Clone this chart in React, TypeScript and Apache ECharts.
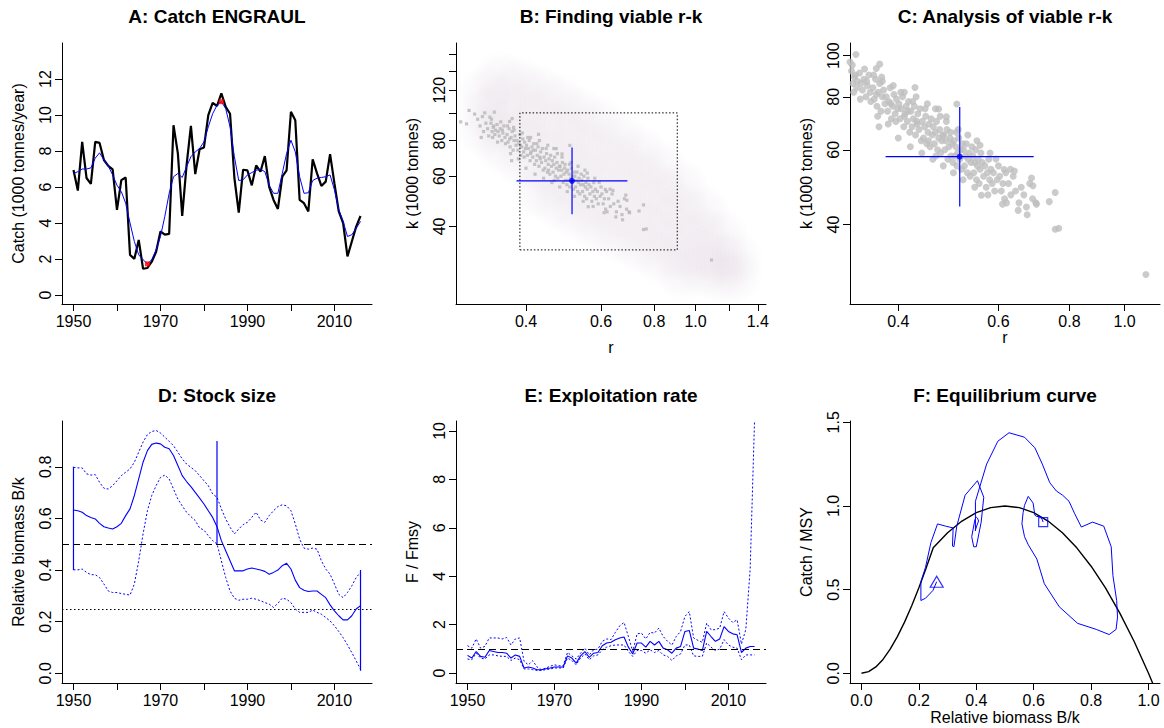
import React, { useEffect, useRef } from "react";
import * as echarts from "echarts";

const FONT = "'Liberation Sans', Arial, Helvetica, sans-serif";
const LN = Math.log;

// ---------- Panel A: catch ----------
const firstYear = 1950;
const catchRaw = [
  6.94, 5.8, 8.51, 6.5, 6.17, 8.51, 8.45, 7.5, 7.17, 6.98,
  4.73, 6.38, 6.53, 2.23, 2.01, 3.06, 1.46, 1.5, 1.85, 2.4,
  3.53, 3.35, 3.4, 9.43, 7.87, 4.4, 7.2, 9.4, 6.72, 8.1,
  8.2, 9.99, 10.67, 10.5, 11.2, 10.45, 10.07, 6.5, 4.58, 6.96,
  6.92, 6.09, 7.2, 6.85, 7.72, 6.0, 5.28, 4.78, 6.57, 6.92,
  10.18, 9.71, 5.28, 5.1, 4.64, 7.54, 6.76, 6.06, 6.3, 7.83,
  6.2, 4.64, 4.0, 2.14, 2.97, 3.8, 4.39,
];
const catchSmooth = [
  6.75, 6.85, 7.0, 7.0, 7.06, 7.6, 7.9, 7.5, 7.17, 6.67,
  6.1, 5.74, 5.1, 4.0, 2.97, 2.23, 1.96, 1.73, 1.96, 2.51,
  3.25, 4.36, 5.65, 6.57, 6.75, 6.53, 7.12, 7.68, 7.95, 8.14,
  8.51, 9.34, 10.07, 10.54, 10.74, 10.36, 9.34, 7.68, 6.36, 6.4,
  6.67, 6.8, 6.93, 6.98, 6.85, 6.1, 5.65, 5.65, 6.75, 7.86,
  8.6, 7.95, 6.57, 5.65, 5.68, 6.36, 6.49, 6.53, 6.57, 6.67,
  5.84, 4.73, 4.09, 3.25, 3.35, 3.7, 4.09,
];
const years = catchRaw.map((_, i) => firstYear + i);
const catchExtremeYears = [1967, 1984];
const yearTicks = [1950, 1960, 1970, 1980, 1990, 2000, 2010];
const yearLabels = [1950, 1970, 1990, 2010];
const catchTicks = [0, 2, 4, 6, 8, 10, 12];

// ---------- Panels B, C: r-k ----------
const cloudPoints: [number, number][] = [
  [0.32, 118], [0.32, 100], [0.32, 86],
  [0.35, 132], [0.35, 108], [0.35, 90], [0.35, 76],
  [0.39, 126], [0.39, 102], [0.39, 84], [0.39, 68],
  [0.43, 118], [0.43, 96], [0.43, 79], [0.43, 64], [0.43, 53],
  [0.48, 110], [0.48, 88], [0.48, 72], [0.48, 59], [0.48, 48],
  [0.53, 100], [0.53, 81], [0.53, 66], [0.53, 54], [0.53, 44],
  [0.59, 92], [0.59, 74], [0.59, 60], [0.59, 49], [0.59, 40],
  [0.66, 82], [0.66, 67], [0.66, 55], [0.66, 45], [0.66, 37],
  [0.74, 73], [0.74, 60], [0.74, 50], [0.74, 41], [0.74, 34],
  [0.83, 64], [0.83, 53], [0.83, 44], [0.83, 37], [0.83, 31],
  [0.93, 55], [0.93, 46], [0.93, 38], [0.93, 32], [0.93, 27.5],
  [1.04, 45], [1.04, 38], [1.04, 32], [1.04, 28],
  [1.15, 37], [1.15, 31], [1.15, 27],
  [1.24, 31], [1.24, 27],
];
const viablePoints: [number, number][] = [
  [0.281, 93], [0.29, 91.5], [0.294, 102], [0.303, 99], [0.308, 95], [0.312, 90], [0.316, 97], [0.318, 86], [0.322, 92], [0.325, 88], [0.327, 83], [0.314, 82], [0.32, 100],
  [0.329, 96.6], [0.337, 100.6], [0.331, 92], [0.333, 86], [0.335, 89], [0.338, 84], [0.332, 95], [0.336, 90], [0.339, 87], [0.334, 82],
  [0.342, 91], [0.344, 86], [0.346, 83], [0.348, 88], [0.351, 80], [0.353, 85], [0.355, 90], [0.357, 82], [0.343, 79], [0.349, 93], [0.352, 87], [0.358, 78],
  [0.371, 95.5], [0.366, 93.3], [0.361, 84], [0.363, 79], [0.365, 88], [0.367, 76], [0.369, 82], [0.371, 86], [0.373, 74], [0.375, 80], [0.377, 83], [0.379, 77], [0.362, 90], [0.368, 72], [0.374, 89], [0.366, 81], [0.37, 68], [0.375, 87],
  [0.381, 80], [0.383, 74], [0.385, 78], [0.387, 84], [0.389, 71], [0.391, 76], [0.393, 81], [0.395, 73], [0.397, 79], [0.399, 75], [0.384, 69], [0.388, 77], [0.392, 85], [0.396, 70],
  [0.401, 77], [0.403, 71], [0.405, 75], [0.407, 80], [0.409, 68], [0.411, 73], [0.413, 76], [0.415, 70], [0.417, 78], [0.419, 66], [0.404, 82], [0.41, 72], [0.416, 74], [0.40, 64], [0.41, 82],
  [0.428, 84.1], [0.421, 74], [0.423, 68], [0.425, 71], [0.427, 76], [0.429, 65], [0.431, 70], [0.433, 73], [0.435, 67], [0.437, 75], [0.439, 63], [0.424, 78], [0.432, 69], [0.42, 61], [0.43, 80],
  [0.441, 70], [0.443, 64], [0.445, 68], [0.447, 72], [0.449, 62], [0.451, 66], [0.453, 69], [0.455, 61], [0.457, 71], [0.459, 65], [0.446, 75], [0.452, 63], [0.44, 59], [0.45, 77],
  [0.461, 68], [0.463, 62], [0.465, 66], [0.467, 70], [0.469, 60], [0.471, 64], [0.473, 67], [0.475, 59], [0.477, 63], [0.479, 65], [0.466, 58], [0.474, 72], [0.471, 74.9], [0.46, 57], [0.465, 75],
  [0.481, 65], [0.483, 60], [0.485, 63], [0.487, 67], [0.489, 57], [0.491, 61], [0.493, 64], [0.495, 58], [0.497, 62], [0.499, 56], [0.486, 70], [0.494, 66], [0.486, 71.8], [0.48, 55],
  [0.507, 76.9], [0.501, 63], [0.503, 58], [0.505, 61], [0.507, 55], [0.509, 59], [0.511, 64], [0.513, 57], [0.515, 60], [0.517, 54], [0.519, 62], [0.506, 66], [0.50, 53], [0.51, 67],
  [0.521, 60], [0.523, 55], [0.525, 58], [0.527, 62], [0.529, 53], [0.531, 57], [0.533, 59], [0.535, 52], [0.537, 56], [0.539, 61], [0.52, 51], [0.53, 65],
  [0.541, 58], [0.543, 53], [0.545, 56], [0.547, 60], [0.549, 51], [0.551, 55], [0.553, 57], [0.555, 50], [0.557, 54], [0.559, 59], [0.557, 61.5], [0.56, 46.9], [0.545, 49], [0.55, 63],
  [0.562, 56], [0.565, 52], [0.568, 55], [0.571, 49], [0.574, 53], [0.577, 57], [0.579, 51], [0.575, 47], [0.58, 59],
  [0.582, 54], [0.585, 50], [0.588, 53], [0.591, 48], [0.594, 57.1], [0.597, 51], [0.60, 55],
  [0.603, 52], [0.607, 48], [0.611, 50], [0.615, 46], [0.618, 53], [0.614, 53.9], [0.61, 44.7], [0.62, 45],
  [0.625, 50], [0.631, 47], [0.637, 52], [0.64, 53.5], [0.643, 48], [0.652, 45], [0.658, 49], [0.65, 43.2], [0.63, 54],
  [0.665, 47], [0.672, 44], [0.674, 42.2], [0.681, 50], [0.686, 51.5], [0.689, 46], [0.69, 49.4], [0.698, 45], [0.70, 44.7],
  [0.737, 45.3], [0.755, 47.6], [0.755, 39.0], [0.766, 39.2], [1.09, 30.5],
];
const rPrior = [0.387, 0.906];
const kPrior = [33.1, 100];
const rEstimate = [0.38, 0.513, 0.692]; // low, mid, high
const kEstimate = [44.1, 57.8, 75.7];
const rTicksB = [0.4, 0.6, 0.8, 1.0, 1.2, 1.4];
const rLabelsB = [0.4, 0.6, 0.8, 1.0, 1.4];
const kTicksB = [40, 60, 80, 100, 120, 140, 160];
const kLabelsB = [40, 60, 80, 120];
const rTicksC = [0.4, 0.6, 0.8, 1.0];
const kTicksC = [40, 60, 80, 100];

// ---------- Panel D: B/k ----------
const bkMed = [
  0.633, 0.63, 0.624, 0.611, 0.604, 0.598, 0.581, 0.568, 0.563, 0.559,
  0.568, 0.581, 0.611, 0.637, 0.689, 0.753, 0.818, 0.863, 0.887, 0.892,
  0.889, 0.876, 0.87, 0.844, 0.805, 0.766, 0.743, 0.723, 0.701, 0.679,
  0.656, 0.63, 0.604, 0.568, 0.514, 0.475, 0.436, 0.397, 0.397, 0.397,
  0.404, 0.408, 0.404, 0.4, 0.395, 0.384, 0.391, 0.4, 0.417, 0.426,
  0.404, 0.361, 0.332, 0.322, 0.317, 0.319, 0.319, 0.306, 0.293, 0.265,
  0.242, 0.223, 0.207, 0.207, 0.223, 0.249, 0.262,
];
const bkUpper = [
  0.798, 0.796, 0.796, 0.773, 0.768, 0.77, 0.74, 0.717, 0.714, 0.727,
  0.746, 0.766, 0.779, 0.792, 0.818, 0.857, 0.896, 0.925, 0.937, 0.941,
  0.931, 0.915, 0.899, 0.882, 0.857, 0.831, 0.811, 0.798, 0.785, 0.766,
  0.746, 0.727, 0.695, 0.682, 0.637, 0.598, 0.566, 0.54, 0.559, 0.576,
  0.585, 0.604, 0.624, 0.594, 0.585, 0.611, 0.63, 0.646, 0.653, 0.649,
  0.63, 0.579, 0.52, 0.485, 0.481, 0.485, 0.481, 0.436, 0.404, 0.384,
  0.346, 0.306, 0.293, 0.313, 0.339, 0.371, 0.391,
];
const bkLower = [
  0.401, 0.401, 0.404, 0.391, 0.382, 0.382, 0.371, 0.346, 0.319, 0.313,
  0.313, 0.309, 0.306, 0.303, 0.346, 0.436, 0.54, 0.63, 0.689, 0.727,
  0.759, 0.768, 0.753, 0.714, 0.675, 0.649, 0.624, 0.607, 0.592, 0.563,
  0.555, 0.533, 0.514, 0.501, 0.436, 0.371, 0.319, 0.291, 0.283, 0.287,
  0.287, 0.291, 0.287, 0.281, 0.274, 0.268, 0.255, 0.271, 0.291, 0.287,
  0.274, 0.249, 0.236, 0.236, 0.236, 0.245, 0.236, 0.229, 0.216, 0.203,
  0.184, 0.162, 0.138, 0.11, 0.08, 0.048, 0.016,
];
const bkPriorYears = [1950, 1983, 2016];
const bkPriorLow = [0.4, 0.5, 0.01];
const bkPriorHigh = [0.8, 0.9, 0.4];
const bkTicks = [0, 0.2, 0.4, 0.6, 0.8];

// ---------- Panel E: F/Fmsy ----------
const ffMed = [
  0.73, 0.62, 0.89, 0.69, 0.65, 0.93, 0.89, 0.85, 0.85, 0.82,
  0.62, 0.75, 0.69, 0.21, 0.25, 0.21, 0.14, 0.14, 0.18, 0.21,
  0.25, 0.25, 0.25, 0.71, 0.62, 0.41, 0.71, 0.89, 0.65, 0.82,
  0.85, 1.13, 1.24, 1.27, 1.38, 1.45, 1.49, 1.07, 0.79, 1.24,
  1.24, 1.07, 1.31, 1.16, 1.31, 1.03, 0.96, 0.82, 1.03, 1.1,
  1.72, 1.76, 1.03, 0.99, 0.93, 1.72, 1.51, 1.31, 1.41, 1.92,
  1.72, 1.62, 1.58, 0.85, 1.03, 1.1, 1.1,
];
const ffUpper = [
  1.13, 1.03, 1.41, 1.03, 1.1, 1.45, 1.45, 1.45, 1.41, 1.47,
  1.16, 1.41, 1.45, 0.49, 0.34, 0.51, 0.25, 0.14, 0.21, 0.28,
  0.34, 0.3, 0.3, 0.85, 0.71, 0.58, 0.82, 1.03, 0.75, 0.96,
  0.99, 1.31, 1.41, 1.38, 1.68, 1.95, 2.09, 1.51, 0.89, 1.62,
  1.65, 1.41, 1.68, 1.65, 1.86, 1.51, 1.31, 1.16, 1.51, 1.72,
  2.34, 2.54, 1.45, 1.35, 1.27, 2.06, 1.79, 1.79, 1.86, 2.54,
  2.27, 2.09, 2.2, 1.2, 1.8, 4.3, 10.4,
];
const ffLower = [
  0.58, 0.55, 0.82, 0.62, 0.58, 0.75, 0.75, 0.71, 0.69, 0.69,
  0.52, 0.62, 0.55, 0.17, 0.17, 0.14, 0.11, 0.11, 0.14, 0.17,
  0.21, 0.21, 0.21, 0.62, 0.52, 0.34, 0.62, 0.79, 0.55, 0.71,
  0.75, 0.96, 1.07, 1.13, 1.16, 1.16, 1.16, 0.89, 0.69, 0.93,
  0.93, 0.82, 0.96, 0.85, 0.93, 0.75, 0.69, 0.52, 0.71, 0.79,
  1.16, 1.16, 0.71, 0.69, 0.69, 1.24, 1.07, 0.93, 0.99, 1.38,
  1.16, 1.07, 1.03, 0.55, 0.75, 0.75, 0.75,
];
const ffTicks = [0, 2, 4, 6, 8, 10];

// ---------- Panel F: equilibrium ----------
const MSY = 7.47;
const eqB = [0, 0.025, 0.05, 0.075, 0.1, 0.125, 0.15, 0.175, 0.2, 0.225, 0.25, 0.3, 0.35, 0.4, 0.45, 0.5, 0.55, 0.6, 0.65, 0.7, 0.75, 0.8, 0.85, 0.9, 0.95, 1.0, 1.02];
const eqC = [0, 0.01, 0.038, 0.083, 0.144, 0.219, 0.306, 0.404, 0.512, 0.628, 0.75, 0.84, 0.91, 0.96, 0.99, 1.0, 0.99, 0.96, 0.91, 0.84, 0.75, 0.64, 0.51, 0.36, 0.19, 0, -0.082];
const fxTicks = [0, 0.2, 0.4, 0.6, 0.8, 1.0];
const fyTicks = [0, 0.5, 1.0, 1.5];

// ---------- layout ----------
const COLS = [62, 456, 850];
const GW = 310;
const ROW_TOP = [43, 421];
const ROW_H = [261, 262];
const BLUE = "#0000ff";
const GRAY = "#bebebe";

function mkAxis(
  gridIndex: number, min: number, max: number, ticks: number[], labels: number[],
  fmt: (v: number) => string, rotate: number, extra: any = {}
) {
  return {
    type: "value", gridIndex, min, max,
    axisLine: { show: true, onZero: false, lineStyle: { color: "#000", width: 1 } },
    axisTick: { show: true, inside: false, length: 7, customValues: ticks, lineStyle: { color: "#000", width: 1 } },
    axisLabel: {
      show: true, customValues: labels, formatter: (v: number) => fmt(v), rotate, margin: 9,
      color: "#000", fontSize: 16, fontFamily: FONT,
    },
    splitLine: { show: false },
    nameLocation: "middle",
    nameTextStyle: { color: "#000", fontSize: 16, fontFamily: FONT },
    ...extra,
  };
}

function line(i: number, data: any[], color: string, width: number, type: any = "solid", z = 3) {
  return {
    type: "line", xAxisIndex: i, yAxisIndex: i, data, symbol: "none", showSymbol: false,
    silent: true, animation: false, z,
    lineStyle: { color, width, type },
  };
}

const yrFmt = (v: number) => String(Math.round(v));
const rFmt = (v: number) => Math.exp(v).toFixed(1);
const kFmt = (v: number) => String(Math.round(Math.exp(v)));
const f1 = (v: number) => v.toFixed(1);

function crossSeries(i: number) {
  return [
    line(i, [[LN(rEstimate[0]), LN(kEstimate[1])], [LN(rEstimate[2]), LN(kEstimate[1])]], BLUE, 1.2, "solid", 6),
    line(i, [[LN(rEstimate[1]), LN(kEstimate[0])], [LN(rEstimate[1]), LN(kEstimate[2])]], BLUE, 1.2, "solid", 6),
    {
      type: "scatter", xAxisIndex: i, yAxisIndex: i, silent: true, animation: false, z: 7,
      data: [[LN(rEstimate[1]), LN(kEstimate[1])]], symbol: "circle", symbolSize: 6,
      itemStyle: { color: BLUE },
    },
  ];
}

function buildOption() {
  const grid = [0, 1, 2, 3, 4, 5].map((i) => ({
    left: COLS[i % 3], top: ROW_TOP[Math.floor(i / 3)], width: GW, height: ROW_H[Math.floor(i / 3)],
    containLabel: false,
  }));

  const xAxis = [
    mkAxis(0, 1947.36, 2018.64, yearTicks, yearLabels, yrFmt, 0),
    mkAxis(1, -1.2947, 0.381, rTicksB.map(LN), rLabelsB.map(LN), rFmt, 0, { name: "r", nameGap: 35 }),
    mkAxis(2, LN(0.329), LN(1.154), rTicksC.map(LN), rTicksC.map(LN), rFmt, 0, { name: "r", nameGap: 25 }),
    mkAxis(3, 1947.36, 2018.64, yearTicks, yearLabels, yrFmt, 0),
    mkAxis(4, 1947.36, 2018.64, yearTicks, yearLabels, yrFmt, 0),
    mkAxis(5, -0.04, 1.04, fxTicks, fxTicks, f1, 0, { name: "Relative biomass B/k", nameGap: 26 }),
  ];
  const yAxis = [
    mkAxis(0, -0.5, 14, catchTicks, catchTicks, yrFmt, 90, { name: "Catch (1000 tonnes/year)", nameGap: 36 }),
    mkAxis(1, 3.063, 5.169, kTicksB.map(LN), kLabelsB.map(LN), kFmt, 90, { name: "k (1000 tonnes)", nameGap: 36 }),
    mkAxis(2, LN(26.0), LN(107.1), kTicksC.map(LN), kTicksC.map(LN), kFmt, 90, { name: "k (1000 tonnes)", nameGap: 36 }),
    mkAxis(3, -0.0376, 0.9776, bkTicks, bkTicks, f1, 90, { name: "Relative biomass B/k", nameGap: 36 }),
    mkAxis(4, -0.41, 10.41, ffTicks, ffTicks, yrFmt, 90, { name: "F / Fmsy", nameGap: 36 }),
    mkAxis(5, -0.058, 1.508, fyTicks, fyTicks, f1, 90, { name: "Catch / MSY", nameGap: 36 }),
  ];

  const series: any[] = [];
  // A
  series.push(line(0, years.map((y, i) => [y, catchRaw[i]]), "#000", 2.2, "solid", 3));
  series.push(line(0, years.map((y, i) => [y, catchSmooth[i]]), BLUE, 1, "solid", 4));
  series.push({
    type: "scatter", xAxisIndex: 0, yAxisIndex: 0, silent: true, animation: false, z: 5,
    data: catchExtremeYears.map((y) => [y, catchSmooth[years.indexOf(y)]]),
    symbol: "rect", symbolSize: 5, itemStyle: { color: "#ff0000" },
  });
  // B
  series.push({
    type: "scatter", xAxisIndex: 1, yAxisIndex: 1, silent: true, animation: false, z: 1,
    data: cloudPoints.map(([r, k]) => [LN(r), LN(k)]), symbol: "circle", symbolSize: 56,
    itemStyle: {
      color: {
        type: "radial", x: 0.5, y: 0.5, r: 0.5,
        colorStops: [
          { offset: 0, color: "rgba(222,210,222,0.26)" },
          { offset: 0.6, color: "rgba(222,210,222,0.14)" },
          { offset: 1, color: "rgba(222,210,222,0)" },
        ],
      },
    },
  });
  series.push({
    type: "scatter", xAxisIndex: 1, yAxisIndex: 1, silent: true, animation: false, z: 2,
    data: viablePoints.map(([r, k]) => [LN(r), LN(k)]), symbol: "rect", symbolSize: 3.2,
    itemStyle: { color: "#b8b8b8" },
  });
  series.push(line(1, [
    [LN(rPrior[0]), LN(kPrior[0])], [LN(rPrior[1]), LN(kPrior[0])],
    [LN(rPrior[1]), LN(kPrior[1])], [LN(rPrior[0]), LN(kPrior[1])], [LN(rPrior[0]), LN(kPrior[0])],
  ], "#000", 1, [1.5, 2], 4));
  series.push(...crossSeries(1));
  // C
  series.push({
    type: "scatter", xAxisIndex: 2, yAxisIndex: 2, silent: true, animation: false, z: 2,
    data: viablePoints.map(([r, k]) => [LN(r), LN(k)]), symbol: "circle", symbolSize: 7,
    itemStyle: { color: GRAY },
  });
  series.push(...crossSeries(2));
  // D
  series.push(line(3, years.map((y, i) => [y, bkUpper[i]]), BLUE, 1, [2, 2], 3));
  series.push(line(3, years.map((y, i) => [y, bkLower[i]]), BLUE, 1, [2, 2], 3));
  const dMed: any = line(3, years.map((y, i) => [y, bkMed[i]]), BLUE, 1.1, "solid", 4);
  dMed.markLine = {
    silent: true, symbol: ["none", "none"], animation: false, label: { show: false },
    lineStyle: { color: "#000", width: 1 },
    data: [
      { yAxis: 0.5, lineStyle: { color: "#000", width: 1, type: [7, 4] } },
      { yAxis: 0.25, lineStyle: { color: "#000", width: 1, type: [1.5, 2.5] } },
    ],
  };
  series.push(dMed);
  bkPriorYears.forEach((y, j) => {
    series.push(line(3, [[y, bkPriorLow[j]], [y, bkPriorHigh[j]]], BLUE, 1.2, "solid", 5));
  });
  // E
  series.push(line(4, years.map((y, i) => [y, ffUpper[i]]), BLUE, 1, [2, 2], 3));
  series.push(line(4, years.map((y, i) => [y, ffLower[i]]), BLUE, 1, [2, 2], 3));
  const eMed: any = line(4, years.map((y, i) => [y, ffMed[i]]), BLUE, 1.1, "solid", 4);
  eMed.markLine = {
    silent: true, symbol: ["none", "none"], animation: false, label: { show: false },
    data: [{ yAxis: 1, lineStyle: { color: "#000", width: 1, type: [7, 4] } }],
  };
  series.push(eMed);
  // F
  series.push(line(5, eqB.map((b, i) => [b, eqC[i]]), "#000", 1.4, "solid", 3));
  const traj = years.map((_, i) => [bkMed[i], catchSmooth[i] / MSY]);
  series.push(line(5, traj, BLUE, 1, "solid", 4));
  series.push({
    type: "scatter", xAxisIndex: 5, yAxisIndex: 5, silent: true, animation: false, z: 5,
    data: [traj[0]], symbol: "rect", symbolSize: 9,
    itemStyle: { color: "rgba(0,0,0,0)", borderColor: BLUE, borderWidth: 1.2 },
  });
  series.push({
    type: "scatter", xAxisIndex: 5, yAxisIndex: 5, silent: true, animation: false, z: 5,
    data: [traj[traj.length - 1]], symbol: "triangle", symbolSize: [13, 11],
    itemStyle: { color: "rgba(0,0,0,0)", borderColor: BLUE, borderWidth: 1.2 },
  });

  const titles = [
    "A: Catch ENGRAUL", "B: Finding viable r-k", "C: Analysis of viable r-k",
    "D: Stock size", "E: Exploitation rate", "F: Equilibrium curve",
  ];
  const titleY = [16.5, 395.5];
  const graphic = titles.map((t, i) => ({
    type: "text",
    x: COLS[i % 3] + GW / 2,
    y: titleY[Math.floor(i / 3)],
    silent: true,
    style: {
      text: t, fill: "#000", fontSize: 19, fontWeight: "bold", fontFamily: FONT,
      textAlign: "center", textVerticalAlign: "middle", align: "center", verticalAlign: "middle",
    },
  }));

  return {
    animation: false,
    backgroundColor: "#ffffff",
    textStyle: { fontFamily: FONT },
    grid, xAxis, yAxis, series, graphic,
  };
}

export default function App() {
  const ref = useRef<HTMLDivElement>(null);
  useEffect(() => {
    document.body.style.margin = "0";
    const chart = echarts.init(ref.current!, null, { renderer: "svg" });
    chart.setOption(buildOption() as any);
    return () => chart.dispose();
  }, []);
  return (
    <div
      ref={ref}
      style={{ position: "absolute", left: 0, top: 0, width: 1164, height: 728, background: "#fff" }}
    />
  );
}
